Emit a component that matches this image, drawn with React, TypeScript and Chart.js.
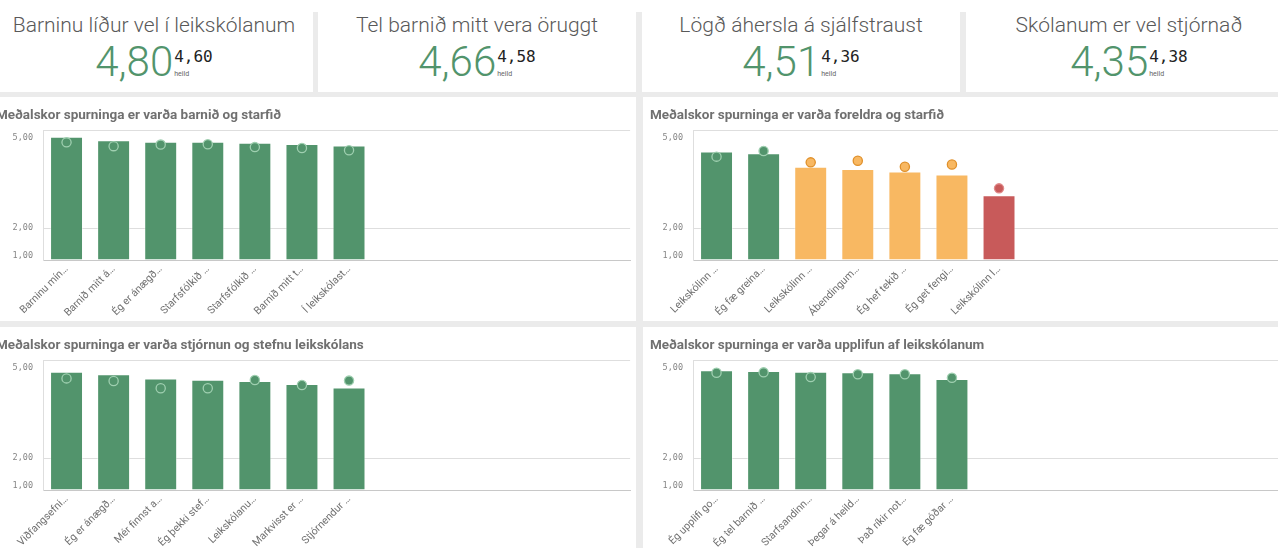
import React, { useEffect, useRef } from 'react';
import { Chart, registerables } from 'chart.js';

Chart.register(...registerables);

// ---------- KPI data ----------
const kpiTitles = [
  'Barninu líður vel í leikskólanum',
  'Tel barnið mitt vera öruggt',
  'Lögð áhersla á sjálfstraust',
  'Skólanum er vel stjórnað',
];
const kpiValues = [4.8, 4.66, 4.51, 4.35];
const kpiTotals = [4.6, 4.58, 4.36, 4.38];
const kpiSubLabel = 'heild';

// ---------- Chart 1 ----------
const chart1Title = 'Meðalskor spurninga er varða barnið og starfið';
const chart1Labels = ['Barninu mín…', 'Barnið mitt á…', 'Ég er ánægð…', 'Starfsfólkið …', 'Starfsfólkið …', 'Barnið mitt t…', 'Í leikskólast…'];
const chart1Values = [4.89, 4.78, 4.73, 4.73, 4.7, 4.66, 4.61];
const chart1Totals = [4.71, 4.59, 4.64, 4.65, 4.56, 4.53, 4.46];

// ---------- Chart 2 ----------
const chart2Title = 'Meðalskor spurninga er varða foreldra og starfið';
const chart2Labels = ['Leikskólinn …', 'Ég fæ greina…', 'Leikskólinn …', 'Ábendingum…', 'Ég hef tekið …', 'Ég get fengi…', 'Leikskólinn l…'];
const chart2Values = [4.42, 4.37, 3.94, 3.87, 3.79, 3.7, 3.04];
const chart2Totals = [4.26, 4.44, 4.08, 4.13, 3.94, 4.01, 3.26];

// ---------- Chart 3 ----------
const chart3Title = 'Meðalskor spurninga er varða stjórnun og stefnu leikskólans';
const chart3Labels = ['Viðfangsefni…', 'Ég er ánægð…', 'Mér finnst a…', 'Ég þekki stef…', 'Leikskólanu…', 'Markvisst er …', 'Stjórnendur …'];
const chart3Values = [4.73, 4.65, 4.52, 4.48, 4.44, 4.34, 4.23];
const chart3Totals = [4.52, 4.44, 4.21, 4.21, 4.47, 4.31, 4.45];

// ---------- Chart 4 ----------
const chart4Title = 'Meðalskor spurninga er varða upplifun af leikskólanum';
const chart4Labels = ['Ég upplifi go…', 'Ég tel barnið …', 'Starfsandinn…', 'Þegar á heild…', 'Það ríkir not…', 'Ég fæ góðar …'];
const chart4Values = [4.78, 4.75, 4.73, 4.71, 4.68, 4.5];
const chart4Totals = [4.7, 4.71, 4.56, 4.65, 4.65, 4.54];

// ---------- axis ----------
const yTicks = [1, 2, 5];
const Y_MIN = 1;
const Y_MAX = 5.1;

// ---------- styles ----------
const GREEN = '#52946c';
const ORANGE = '#f8b862';
const RED = '#c85a5a';
const GREEN_DOT_BORDER = '#9fcfb0';
const ORANGE_DOT_BORDER = '#e0902a';
const RED_DOT_BORDER = '#e08a8a';
const SLOTS = 12.47;

const colorFor = (v: number) => (v >= 4.2 ? GREEN : v >= 3.5 ? ORANGE : RED);
const dotBorderFor = (v: number) => (v >= 4.2 ? GREEN_DOT_BORDER : v >= 3.5 ? ORANGE_DOT_BORDER : RED_DOT_BORDER);
const fmt = (v: number) => v.toFixed(2).replace('.', ',');

// keep the end labels inside the plot, like the original
const yLabel = (v: number): any => {
  if (!yTicks.includes(v)) return '';
  if (v === yTicks[yTicks.length - 1]) return ['', fmt(v)];
  if (v === yTicks[0]) return [fmt(v), ''];
  return fmt(v);
};

type PanelProps = {
  title: string;
  labels: string[];
  values: number[];
  totals: number[];
  left: number;
  top: number;
  titleLeft: number;
};

const PANEL_W = 643;
const PANEL_H = 224;

function ChartPanel({ title, labels, values, totals, left, top, titleLeft }: PanelProps) {
  const ref = useRef<HTMLCanvasElement>(null);
  useEffect(() => {
    if (!ref.current) return;
    const chart = new Chart(ref.current, {
      type: 'bar',
      data: {
        datasets: [
          {
            type: 'line',
            data: totals.map((v, i) => ({ x: i, y: v })),
            showLine: false,
            pointRadius: 4.6,
            pointBorderWidth: 1.3,
            pointBackgroundColor: values.map(colorFor),
            pointBorderColor: values.map(dotBorderFor),
            order: 0,
          } as any,
          {
            type: 'bar',
            data: values.map((v, i) => ({ x: i, y: v })),
            backgroundColor: values.map(colorFor),
            borderColor: 'rgba(255,255,255,0.45)',
            borderWidth: 1,
            base: Y_MIN,
            barPercentage: 0.7,
            categoryPercentage: 1,
            order: 1,
          } as any,
        ],
      },
      options: {
        animation: false,
        responsive: false,
        maintainAspectRatio: false,
        layout: { padding: { top: 33, right: 4, left: 0, bottom: 0 } },
        plugins: { legend: { display: false }, tooltip: { enabled: false } },
        scales: {
          x: {
            type: 'linear',
            offset: false,
            min: -0.5,
            max: SLOTS - 0.5,
            afterBuildTicks: (s: any) => {
              s.ticks = labels.map((_, i) => ({ value: i }));
            },
            afterFit: (s: any) => {
              s.height = 61;
            },
            ticks: {
              autoSkip: false,
              minRotation: 45,
              maxRotation: 45,
              padding: 3,
              color: '#707070',
              font: { family: 'Roboto', size: 10.5 },
              callback: (v: any) => labels[v] ?? '',
            },
            grid: { display: false, offset: false, drawTicks: false },
            border: { display: true, color: '#c8c8c8' },
          },
          y: {
            min: Y_MIN,
            max: Y_MAX,
            afterBuildTicks: (s: any) => {
              s.ticks = [...yTicks, Y_MAX].map((v) => ({ value: v }));
            },
            afterFit: (s: any) => {
              s.width = 50;
            },
            ticks: {
              padding: 10,
              color: '#858585',
              font: { family: 'DejaVu Sans Mono', size: 8.5, lineHeight: 1.1 },
              callback: (v: any) => yLabel(v),
            },
            grid: {
              drawTicks: false,
              color: (ctx: any) => (ctx.tick && ctx.tick.value === 5 ? 'rgba(0,0,0,0)' : '#dedede'),
            },
            border: { display: true, color: '#dedede' },
          },
        },
      },
    });
    return () => chart.destroy();
  }, []);
  return (
    <div style={{ position: 'absolute', left, top, width: PANEL_W, height: PANEL_H, background: '#fff' }}>
      <canvas ref={ref} width={PANEL_W} height={PANEL_H} style={{ position: 'absolute', left: 0, top: 0, width: PANEL_W, height: PANEL_H }} />
      <div
        style={{
          position: 'absolute',
          left: titleLeft,
          top: 9,
          font: '700 13.5px/16px Roboto',
          color: '#707070',
          whiteSpace: 'nowrap',
        }}
      >
        {title}
      </div>
    </div>
  );
}

const tileLefts = [-5, 318, 642, 966];
const tileWidths = [318, 318, 318, 326];

function Kpi({ i }: { i: number }) {
  return (
    <div style={{ position: 'absolute', left: tileLefts[i], top: 12, width: tileWidths[i], height: 80, background: '#fff' }}>
      <div
        style={{
          position: 'absolute',
          top: 0,
          left: 0,
          right: 0,
          textAlign: 'center',
          font: '300 21px/26px Roboto',
          color: '#595959',
          whiteSpace: 'nowrap',
        }}
      >
        {kpiTitles[i]}
      </div>
      <div style={{ position: 'absolute', top: 27, left: 0, right: 0, display: 'flex', justifyContent: 'center', alignItems: 'flex-start' }}>
        <span style={{ font: '300 42px/46px Roboto', color: GREEN }}>{fmt(kpiValues[i])}</span>
        <span style={{ display: 'flex', flexDirection: 'column', marginLeft: 1, marginTop: 9 }}>
          <span style={{ font: '16px/17px "DejaVu Sans Mono"', color: '#222' }}>{fmt(kpiTotals[i])}</span>
          <span style={{ font: '7px/8px Roboto', color: '#666', marginTop: 5 }}>{kpiSubLabel}</span>
        </span>
      </div>
    </div>
  );
}

export default function App() {
  return (
    <div style={{ position: 'fixed', left: 0, top: 0, width: 1278, height: 548, overflow: 'hidden', background: '#ebebeb' }}>
      <div style={{ position: 'absolute', left: 0, top: 0, width: 1278, height: 12, background: '#fff' }} />
      {[0, 1, 2, 3].map((i) => (
        <Kpi key={i} i={i} />
      ))}
      <ChartPanel title={chart1Title} labels={chart1Labels} values={chart1Values} totals={chart1Totals} left={-7} top={97} titleLeft={3} />
      <ChartPanel title={chart2Title} labels={chart2Labels} values={chart2Values} totals={chart2Totals} left={643} top={97} titleLeft={7} />
      <ChartPanel title={chart3Title} labels={chart3Labels} values={chart3Values} totals={chart3Totals} left={-7} top={327} titleLeft={3} />
      <ChartPanel title={chart4Title} labels={chart4Labels} values={chart4Values} totals={chart4Totals} left={643} top={327} titleLeft={7} />
    </div>
  );
}
